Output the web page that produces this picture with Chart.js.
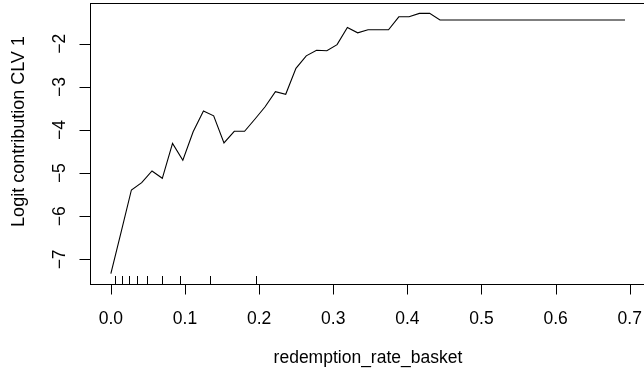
<!DOCTYPE html>
<html>
<head>
<meta charset="utf-8">
<script src="https://cdn.jsdelivr.net/npm/chart.js@4/dist/chart.umd.min.js"></script>
<style>
  html, body { margin: 0; padding: 0; background: #fff; overflow: hidden; }
  #wrap { width: 644px; height: 369px; overflow: hidden; }
</style>
</head>
<body>
<div id="wrap"><canvas id="pdpChart" width="648" height="369"></canvas></div>
<script>
// partial dependence of CLV 1 on redemption_rate_basket
const rateGrid = [
    0.0000, 0.0139, 0.0277, 0.0416, 0.0555, 0.0694, 0.0832, 0.0971, 0.1110, 0.1249,
    0.1387, 0.1526, 0.1665, 0.1804, 0.1942, 0.2081, 0.2220, 0.2359, 0.2497, 0.2636,
    0.2775, 0.2914, 0.3052, 0.3191, 0.3330, 0.3469, 0.3607, 0.3746, 0.3885, 0.4023,
    0.4162, 0.4301, 0.4440, 0.4579, 0.4717, 0.4856, 0.4995, 0.5134, 0.5272, 0.5411,
    0.5550, 0.5689, 0.5827, 0.5966, 0.6105, 0.6244, 0.6382, 0.6521, 0.6660, 0.6799,
    0.6937
];
const logitContribution = [
    -7.33, -6.36, -5.39, -5.22, -4.95, -5.12, -4.31, -4.70, -4.04, -3.56,
    -3.67, -4.30, -4.03, -4.03, -3.75, -3.46, -3.11, -3.17, -2.57, -2.28,
    -2.15, -2.16, -2.02, -1.62, -1.745, -1.675, -1.675, -1.675, -1.374, -1.374,
    -1.295, -1.295, -1.45, -1.45, -1.45, -1.45, -1.45, -1.45, -1.45, -1.45,
    -1.45, -1.45, -1.45, -1.45, -1.45, -1.45, -1.45, -1.45, -1.45, -1.45,
    -1.45
];
// deciles of the observed rates (rug)
const rugRates = [0.0055, 0.0150, 0.0249, 0.0353, 0.0488, 0.0694, 0.0932, 0.1336, 0.1954];

const xTickValues = [0, 0.1, 0.2, 0.3, 0.4, 0.5, 0.6, 0.7];
const xTickLabels = ['0.0', '0.1', '0.2', '0.3', '0.4', '0.5', '0.6', '0.7'];
const yTickValues = [-7, -6, -5, -4, -3, -2];
const yTickLabels = ['\u22127', '\u22126', '\u22125', '\u22124', '\u22123', '\u22122'];

const xTitle = 'redemption_rate_basket';
const yTitle = 'Logit contribution CLV 1';

const fontFamily = '"Liberation Sans", Arial, sans-serif';

function drawText(ctx, text, x, y, rotated) {
    ctx.save();
    ctx.translate(x, y);
    if (rotated) ctx.rotate(-Math.PI / 2);
    ctx.fillText(text, 0, 0);
    ctx.restore();
}

// base-graphics style frame: box, outside ticks, rug and labels
const basePlotFrame = {
    id: 'basePlotFrame',
    afterDatasetsDraw(chart) {
        const ctx = chart.ctx;
        const area = chart.chartArea;
        const xs = chart.scales.x;
        const ys = chart.scales.y;

        ctx.save();
        ctx.strokeStyle = '#000';
        ctx.lineWidth = 1;

        ctx.strokeRect(Math.round(area.left) + 0.5, Math.round(area.top) + 0.5,
            Math.round(area.right - area.left), Math.round(area.bottom - area.top));

        const bottom = Math.round(area.bottom) + 0.5;
        const left = Math.round(area.left) + 0.5;

        ctx.beginPath();
        xs.ticks.forEach(t => {
            const px = Math.round(xs.getPixelForValue(t.value)) + 0.5;
            ctx.moveTo(px, bottom);
            ctx.lineTo(px, bottom + 10);
        });
        ys.ticks.forEach(t => {
            const py = Math.round(ys.getPixelForValue(t.value)) + 0.5;
            ctx.moveTo(left, py);
            ctx.lineTo(left - 11, py);
        });
        rugRates.forEach(r => {
            const px = Math.round(xs.getPixelForValue(r)) + 0.5;
            ctx.moveTo(px, bottom);
            ctx.lineTo(px, bottom - 8.5);
        });
        ctx.stroke();

        ctx.fillStyle = '#000';
        ctx.font = '17.5px ' + fontFamily;
        ctx.textAlign = 'center';
        ctx.textBaseline = 'alphabetic';

        xs.ticks.forEach((t, i) => {
            drawText(ctx, xTickLabels[i], xs.getPixelForValue(t.value), 323.5, false);
        });
        ys.ticks.forEach((t, i) => {
            drawText(ctx, yTickLabels[i], 65, ys.getPixelForValue(t.value), true);
        });

        drawText(ctx, xTitle, (area.left + area.right) / 2, 363, false);

        ctx.font = '18px ' + fontFamily;
        drawText(ctx, yTitle, 23.5, 131.5, true);
        ctx.restore();
    }
};

document.addEventListener('DOMContentLoaded', () => {
    const ctx = document.getElementById('pdpChart').getContext('2d');
    new Chart(ctx, {
        type: 'line',
        data: {
            datasets: [{
                data: rateGrid.map((x, i) => ({ x: x, y: logitContribution[i] })),
                borderColor: '#000000',
                borderWidth: 1.1,
                pointRadius: 0,
                tension: 0,
                fill: false
            }]
        },
        options: {
            responsive: false,
            devicePixelRatio: 1,
            animation: false,
            events: [],
            layout: {
                padding: { left: 90.3, right: 2.4, top: 3, bottom: 85 }
            },
            scales: {
                x: {
                    type: 'linear',
                    display: false,
                    min: -0.02775,
                    max: 0.72145,
                    afterBuildTicks: scale => {
                        scale.ticks = xTickValues.map(v => ({ value: v }));
                    }
                },
                y: {
                    type: 'linear',
                    display: false,
                    min: -7.571,
                    max: -1.054,
                    afterBuildTicks: scale => {
                        scale.ticks = yTickValues.map(v => ({ value: v }));
                    }
                }
            },
            plugins: {
                legend: { display: false },
                tooltip: { enabled: false }
            }
        },
        plugins: [basePlotFrame]
    });
});
</script>
</body>
</html>
